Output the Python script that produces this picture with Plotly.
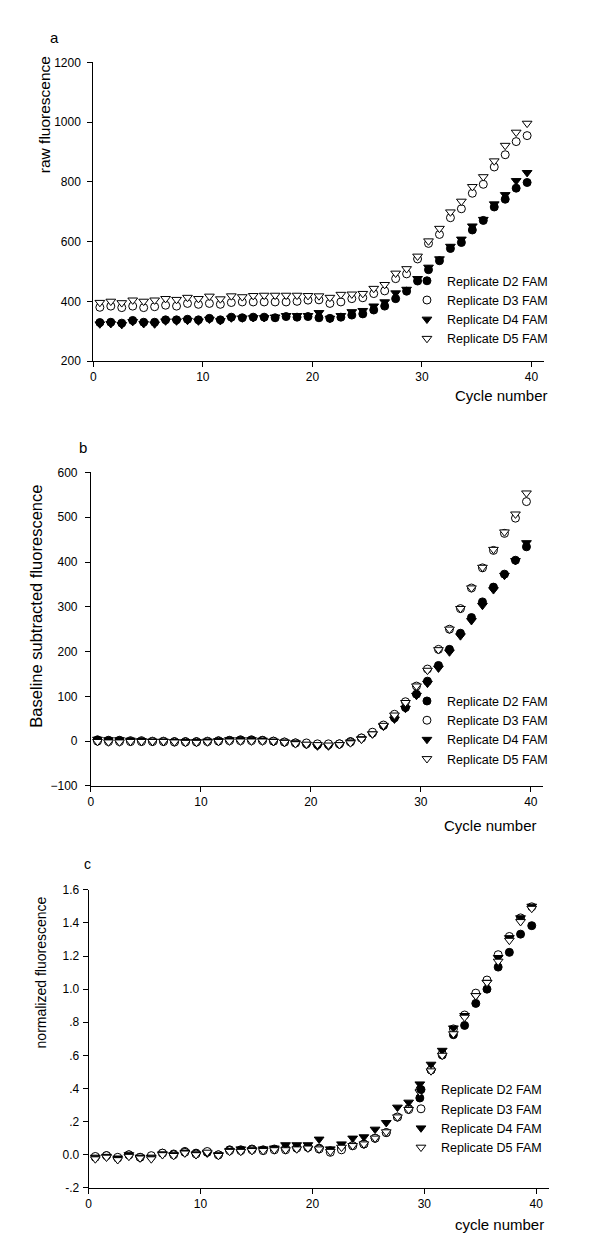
import plotly.graph_objects as go

# ---------------- data ----------------
cycle_x = [0.6, 1.6, 2.6, 3.6, 4.6, 5.6, 6.6, 7.6, 8.6, 9.6,
           10.6, 11.6, 12.6, 13.6, 14.6, 15.6, 16.6, 17.6, 18.6, 19.6,
           20.6, 21.6, 22.6, 23.6, 24.6, 25.6, 26.6, 27.6, 28.6, 29.6,
           30.6, 31.6, 32.6, 33.6, 34.6, 35.6, 36.6, 37.6, 38.6, 39.6]

series_names = ["Replicate D2 FAM", "Replicate D3 FAM", "Replicate D4 FAM", "Replicate D5 FAM"]

# panel a: raw fluorescence
raw_D2 = [329, 330, 327, 336, 330, 330, 338, 338, 340, 338, 343, 338, 347, 345, 347, 347, 345, 349, 347, 349,
          345, 343, 347, 354, 358, 371, 384, 409, 434, 468, 506, 536, 577, 597, 639, 671, 716, 742, 779, 798]
raw_D3 = [380, 384, 379, 384, 379, 382, 387, 384, 393, 390, 393, 390, 396, 398, 398, 398, 398, 398, 400, 404,
          405, 393, 398, 409, 412, 426, 435, 476, 492, 542, 594, 624, 680, 710, 762, 792, 850, 891, 935, 955]
raw_D4 = [324, 325, 322, 332, 325, 324, 334, 334, 336, 334, 340, 335, 344, 344, 345, 345, 347, 352, 352, 352,
          362, 343, 352, 365, 369, 384, 398, 428, 440, 476, 514, 542, 584, 608, 652, 674, 726, 757, 804, 831]
raw_D5 = [396, 400, 395, 404, 400, 404, 409, 406, 413, 409, 417, 408, 418, 415, 419, 420, 420, 420, 420, 419,
          418, 413, 423, 424, 426, 443, 456, 494, 509, 551, 602, 644, 699, 735, 784, 817, 870, 922, 966, 996]

# panel b: baseline subtracted fluorescence
bs_D2 = [3, 2, 2, 1, 1, 0, 0, -1, -1, -1, 0, 1, 2, 3, 3, 2, 0, -2, -4, -6,
         -8, -8, -6, -1, 7, 18, 35, 52, 75, 105, 134, 169, 205, 241, 276, 311, 344, 373, 404, 434]
bs_D3 = [0, -1, -1, -1, -1, -1, -1, -2, -2, -2, -1, 0, 1, 1, 1, 1, 0, -2, -4, -4,
         -6, -6, -6, -2, 7, 20, 36, 60, 88, 123, 161, 205, 250, 296, 342, 387, 426, 464, 498, 535]
bs_D4 = [4, 3, 3, 2, 1, 0, 0, -1, -1, -1, 0, 1, 3, 3, 3, 2, 0, -2, -4, -8,
         -11, -11, -8, -2, 5, 16, 33, 49, 73, 102, 129, 163, 199, 235, 269, 303, 338, 370, 403, 443]
bs_D5 = [-1, -2, -2, -1, -1, -1, -1, -2, -3, -3, -2, -1, 0, 0, 0, 0, -1, -3, -6, -7,
         -8, -9, -8, -4, 4, 16, 35, 58, 86, 123, 158, 204, 250, 296, 342, 388, 428, 467, 507, 554]

# panel c: normalized fluorescence
nf_D2 = [-0.015, -0.005, -0.02, 0.0, -0.015, -0.01, 0.01, 0.005, 0.02, 0.01, 0.015, 0.0, 0.03, 0.03, 0.035,
         0.03, 0.035, 0.04, 0.045, 0.045, 0.04, 0.025, 0.04, 0.055, 0.065, 0.10, 0.134, 0.228, 0.279, 0.343,
         0.512, 0.602, 0.725, 0.781, 0.914, 1.0, 1.133, 1.222, 1.332, 1.383]
nf_D3 = [-0.01, -0.005, -0.015, 0.0, -0.015, -0.005, 0.01, 0.0, 0.015, 0.005, 0.02, 0.0, 0.025, 0.025, 0.03,
         0.025, 0.03, 0.03, 0.04, 0.045, 0.035, 0.015, 0.03, 0.055, 0.065, 0.10, 0.134, 0.228, 0.273, 0.393,
         0.512, 0.61, 0.76, 0.844, 0.976, 1.055, 1.208, 1.318, 1.43, 1.497]
nf_D4 = [-0.015, -0.01, -0.02, 0.0, -0.015, -0.015, 0.005, 0.0, 0.015, 0.005, 0.01, 0.0, 0.025, 0.035, 0.03,
         0.035, 0.04, 0.06, 0.06, 0.06, 0.094, 0.035, 0.065, 0.10, 0.108, 0.154, 0.194, 0.287, 0.317, 0.427,
         0.546, 0.63, 0.765, 0.84, 0.96, 1.04, 1.19, 1.31, 1.43, 1.50]
nf_D5 = [-0.025, -0.015, -0.03, -0.01, -0.02, -0.025, 0.0, -0.005, 0.01, 0.0, 0.015, -0.005, 0.02, 0.02, 0.025,
         0.025, 0.03, 0.03, 0.035, 0.04, 0.035, 0.02, 0.045, 0.055, 0.065, 0.10, 0.138, 0.228, 0.273, 0.379,
         0.506, 0.60, 0.73, 0.83, 0.96, 1.04, 1.168, 1.294, 1.407, 1.487]

x_ticks = [0, 10, 20, 30, 40]
a_yticks = [200, 400, 600, 800, 1000, 1200]
b_yticks = [-100, 0, 100, 200, 300, 400, 500, 600]
c_yticks = [-0.2, 0.0, 0.2, 0.4, 0.6, 0.8, 1.0, 1.2, 1.4, 1.6]
c_yticklabels = ["-.2", "0.0", ".2", ".4", ".6", ".8", "1.0", "1.2", "1.4", "1.6"]

# ---------------- figure ----------------
OFF = 8                      # default body margin of the page
W, H = 600 - 2 * OFF, 1259 - 2 * OFF   # so the whole page is exactly 600 x 1259
FONT = "Liberation Sans, Arial, sans-serif"

def px_x(p):
    return (p - OFF) / W

def px_y(p):
    return 1 - (p - OFF) / H

styles = [
    dict(symbol="circle", size=8, color="black", line=dict(color="black", width=1)),
    dict(symbol="circle", size=8, color="white", line=dict(color="black", width=1)),
    dict(symbol="triangle-down", size=8.5, color="black", line=dict(color="black", width=1)),
    dict(symbol="triangle-down", size=8.5, color="white", line=dict(color="black", width=1)),
]

fig = go.Figure()

panels = [
    ([raw_D2, raw_D3, raw_D4, raw_D5], "x", "y", "legend"),
    ([bs_D2, bs_D3, bs_D4, bs_D5], "x2", "y2", "legend2"),
    ([nf_D2, nf_D3, nf_D4, nf_D5], "x3", "y3", "legend3"),
]
for series, xa, ya, lg in panels:
    for name, vals, st in zip(series_names, series, styles):
        fig.add_trace(go.Scatter(
            x=cycle_x, y=vals, mode="markers", name=name,
            marker=st, xaxis=xa, yaxis=ya, legend=lg, cliponaxis=False,
        ))

axis_common = dict(
    showline=True, linecolor="black", linewidth=1,
    ticks="outside", ticklen=5, tickwidth=1, tickcolor="black",
    showgrid=False, zeroline=False,
    tickfont=dict(family=FONT, size=12, color="black"),
)

# pixel geometry of the three plot areas (screen pixels)
geo = {
    "a": dict(x0=90.7, x1=543.3, y0=56.0, y1=358.0),
    "b": dict(x0=88.3, x1=542.7, y0=470.7, y1=787.7),
    "c": dict(x0=86.0, x1=548.3, y0=892.7, y1=1194.3),
}

def xdom(g):
    return [px_x(g["x0"]), px_x(g["x1"])]

def ydom(g):
    return [px_y(g["y1"]), px_y(g["y0"])]

fig.update_layout(
    width=W, height=H, autosize=False,
    margin=dict(l=0, r=0, t=0, b=0),
    paper_bgcolor="white", plot_bgcolor="white",
    font=dict(family=FONT, color="black"),
    xaxis=dict(domain=xdom(geo["a"]), anchor="y", range=[0, 41.1], tickvals=x_ticks, **axis_common),
    yaxis=dict(domain=ydom(geo["a"]), anchor="x", range=[200, 1200], tickvals=a_yticks,
               ticklabelstandoff=4, **axis_common),
    xaxis2=dict(domain=xdom(geo["b"]), anchor="y2", range=[0, 41.1], tickvals=x_ticks, **axis_common),
    yaxis2=dict(domain=ydom(geo["b"]), anchor="x2", range=[-100, 600], tickvals=b_yticks,
                ticklabelstandoff=5, **axis_common),
    xaxis3=dict(domain=xdom(geo["c"]), anchor="y3", range=[0, 41.1], tickvals=x_ticks, **axis_common),
    yaxis3=dict(domain=ydom(geo["c"]), anchor="x3", range=[-0.2, 1.6], tickvals=c_yticks,
                ticktext=c_yticklabels, ticklabelstandoff=1, **axis_common),
)

legend_common = dict(
    xanchor="left", yanchor="middle", bgcolor="rgba(0,0,0,0)", borderwidth=0,
    font=dict(family=FONT, size=12.5, color="black"), itemclick=False, itemdoubleclick=False,
)
fig.update_layout(
    legend=dict(x=px_x(406), y=px_y(306), **legend_common),
    legend2=dict(x=px_x(406), y=px_y(731), **legend_common),
    legend3=dict(x=px_x(400), y=px_y(1124), **legend_common),
)

def ann(text, x, y, size, angle=0):
    fig.add_annotation(text=text, xref="paper", yref="paper", x=px_x(x), y=px_y(y),
                       xanchor="center", yanchor="middle", showarrow=False, textangle=angle,
                       font=dict(family=FONT, size=size, color="black"))

# panel letters
ann("a", 52, 31, 15)
ann("b", 80, 445, 15)
ann("c", 85, 867, 14)
# y titles
ann("raw fluorescence", 42, 108.5, 15.5, -90)
ann("Baseline subtracted fluorescence", 33, 605.5, 16.5, -90)
ann("normalized fluorescence", 38, 976.5, 14, -90)
# x titles
ann("Cycle number", 501.5, 393, 15)
ann("Cycle number", 490, 828, 15)
ann("cycle number", 499, 1231.7, 15)

fig.write_html("out.html")
